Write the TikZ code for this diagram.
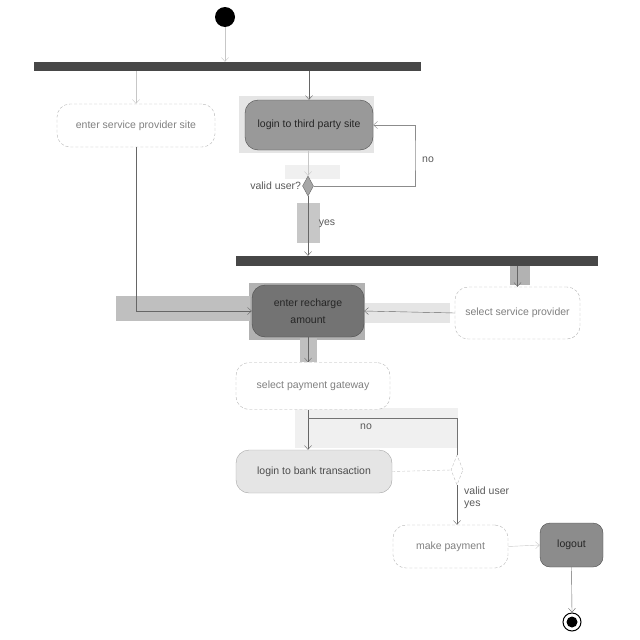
\documentclass[tikz,border=0pt]{standalone}
\usepackage{fontspec}
\setmainfont{Liberation Sans}
\usetikzlibrary{shapes.geometric,arrows.meta}

\begin{document}
\begin{tikzpicture}[x=1pt,y=-1pt,
  font=\fontsize{10.5}{12}\selectfont,
  act/.style={draw=black!30, densely dashed, rounded corners=13pt, fill=white,
    text=black!50, align=center, inner sep=1pt},
  actdark/.style={draw=black!70, rounded corners=13pt, fill=black!40,
    text=black!85, align=center, inner sep=1pt},
  bar/.style={fill=black!72, draw=none, inner sep=0pt},
  flow/.style={draw=black!60, -{Straight Barb[length=4pt,width=7pt]}},
  faint/.style={draw=black!22},
  hl/.style={fill=black!#1, draw=none},
  lbl/.style={text=black!65, inner sep=1pt}]
\useasboundingbox (0,0) rectangle (640,640);

% shaded bands behind the busy part of the flow
\fill[hl=10] (239,96) rectangle (374,153);
\fill[hl=6] (285,165) rectangle (340,179);
\fill[hl=22] (297,203) rectangle (320,243);
\fill[hl=30] (510,266) rectangle (530,285);
\fill[hl=30] (249,283) rectangle (365,340);
\fill[hl=25] (116,296) rectangle (250,321);
\fill[hl=10] (365,303) rectangle (450,323);
\fill[hl=25] (300,338) rectangle (317,362);
\fill[hl=6] (295,408) rectangle (458,448);

% nodes
\node[circle, fill=black, minimum size=20pt, inner sep=0pt] (start) at (225,17) {};
\node[bar, minimum width=387pt, minimum height=9pt] (bar1) at (227.5,66.5) {};
\node[act, minimum width=158pt, minimum height=43pt] (esp) at (136,125.5) {enter service provider site};
\node[actdark, minimum width=128pt, minimum height=50pt] (ltp) at (309,125) {login to third party site};
\node[diamond, draw=black!60, fill=black!35, minimum width=11pt, minimum height=20pt, inner sep=0pt] (d1) at (308,186) {};
\node[lbl, anchor=east] (vu1) at (d1.west) {valid user?};
\node[bar, minimum width=362pt, minimum height=10pt] (bar2) at (417,261) {};
\node[act, minimum width=125pt, minimum height=52pt] (ssp) at (517.5,313) {select service provider};
\node[actdark, fill=black!55, minimum width=112pt, minimum height=52pt] (era) at (308,311) {enter recharge\\[5pt]amount};
\node[act, minimum width=154pt, minimum height=47pt] (spg) at (313,386) {select payment gateway};
\node[act, solid, draw=black!35, fill=black!10, text=black!70, minimum width=156pt, minimum height=43pt] (lbt) at (314,471.5) {login to bank transaction};
\node[diamond, draw=black!25, densely dashed, fill=white, minimum width=12pt, minimum height=30pt, inner sep=0pt] (d2) at (457,470) {};
\node[act, minimum width=115pt, minimum height=43pt] (mp) at (450.5,546.5) {make payment};
\node[actdark, fill=black!45, rounded corners=10pt, minimum width=63pt, minimum height=44pt] (lo) at (571.5,545) {logout};
\node[circle, draw=black, line width=1pt, fill=white, minimum size=18pt, inner sep=0pt] (end) at (572,622) {};
\node[circle, fill=black, minimum size=11pt, inner sep=0pt] (endin) at (end.center) {};

% helper points for the loops
\coordinate (nc) at (415,155);
\coordinate (nj) at (308,418);

% connectors
\draw[flow, faint] (start) -- (bar1.north -| start);
\draw[flow, faint] (bar1.south -| esp.north) -- (esp.north);
\draw[flow] (bar1.south -| ltp.north) -- (ltp.north);
\draw[flow, faint] (ltp.south -| d1.north) -- (d1.north);
\draw[flow, draw=black!45] (d1.east) -| (nc) |- (ltp.east);
\node[lbl] (no1) at (428,160) {no};
\draw[flow] (d1.south) -- (bar2.north -| d1.south);
\node[lbl] (yes1) at (327,224) {yes};
\draw[flow] (bar2.south -| ssp.north) -- (ssp.north);
\draw[flow] (esp.south) |- (era.west);
\draw[flow] (ssp.west) -- (era.east);
\draw[flow] (era.south) -- (era.south |- spg.north);
\draw[flow] (era.south |- spg.south) -- (era.south |- lbt.north);
\draw[faint, densely dashed] (lbt.east) -- (d2.west);
\draw[draw=black!55] (d2.north) |- (nj);
\node[lbl] (no2) at (366,427) {no};
\draw[flow] (d2.south) -- (d2.south |- mp.north);
\node[lbl, anchor=west] (vu2) at (463,491) {valid user};
\node[lbl, anchor=west] (yes2) at (463,505) {yes};
\draw[flow, faint] (mp.east) -- (lo.west);
\draw[flow] (lo.south) -- (end.north);
\end{tikzpicture}
\end{document}
